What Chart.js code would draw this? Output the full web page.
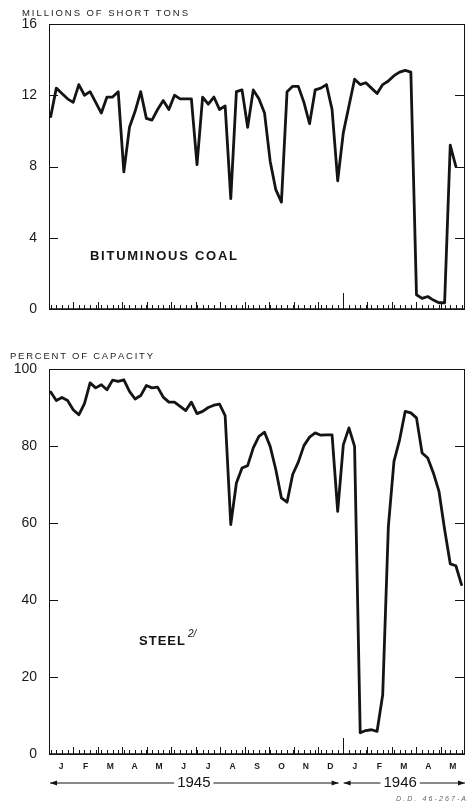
<!DOCTYPE html>
<html>
<head>
<meta charset="utf-8">
<script src="https://cdn.jsdelivr.net/npm/chart.js@4.4.1/dist/chart.umd.min.js"></script>
<style>
  html, body { margin: 0; padding: 0; background: #fff; }
  #wrap { position: relative; width: 468px; height: 803px; overflow: hidden; }
  canvas { position: absolute; left: 0; }
  #coalChart { top: 0; }
  #steelChart { top: 340px; }
</style>
</head>
<body>
<div id="wrap">
  <canvas id="coalChart" width="468" height="340"></canvas>
  <canvas id="steelChart" width="468" height="463"></canvas>
</div>
<script>
// Weekly data, Jan 1945 - May 1946
const coalWeekly = [10.8, 12.4, 12.1, 11.8, 11.6, 12.6, 12.0, 12.2, 11.6, 11.0,
    11.9, 11.9, 12.2, 7.7, 10.2, 11.1, 12.2, 10.7, 10.6, 11.2,
    11.7, 11.2, 12.0, 11.8, 11.8, 11.8, 8.1, 11.9, 11.5, 11.9,
    11.2, 11.4, 6.2, 12.2, 12.3, 10.2, 12.3, 11.8, 11.0, 8.3,
    6.7, 6.0, 12.2, 12.5, 12.5, 11.6, 10.4, 12.3, 12.4, 12.6,
    11.2, 7.2, 9.9, 11.4, 12.9, 12.6, 12.7, 12.4, 12.1, 12.6,
    12.8, 13.1, 13.3, 13.4, 13.3, 0.8, 0.6, 0.7, 0.5, 0.35,
    0.35, 9.2, 8.0];

const steelWeekly = [94.0, 91.8, 92.6, 91.8, 89.4, 88.1, 91.0, 96.4, 95.1, 95.9,
    94.6, 97.1, 96.8, 97.2, 94.2, 92.2, 93.1, 95.7, 95.1, 95.3,
    92.7, 91.4, 91.4, 90.3, 89.2, 91.4, 88.4, 89.0, 90.0, 90.6,
    90.9, 87.9, 59.6, 70.4, 74.3, 74.9, 79.5, 82.5, 83.6, 79.9,
    73.9, 66.5, 65.4, 72.6, 75.8, 80.1, 82.3, 83.4, 82.8, 82.9,
    82.9, 63.0, 80.3, 84.7, 79.9, 5.5, 6.1, 6.3, 5.9, 15.4,
    59.0, 76.0, 81.6, 89.0, 88.6, 87.3, 78.2, 76.9, 73.0, 68.2,
    58.3, 49.4, 48.9, 44.0];

const monthLabels = ['J', 'F', 'M', 'A', 'M', 'J', 'J', 'A', 'S', 'O', 'N', 'D', 'J', 'F', 'M', 'A', 'M'];
const coalTicks = [0, 4, 8, 12, 16];
const steelTicks = [0, 20, 40, 60, 80, 100];
const years = ['1945', '1946'];

// x axis is in weeks; month m starts at monthToX(m)
const WEEKS_PER_MONTH = 52.18 / 12;
const X_OFFSET = 0.3;
const monthToX = m => m * WEEKS_PER_MONTH - X_OFFSET;
const X_MIN = monthToX(0);
const X_MAX = monthToX(monthLabels.length);

const INK = '#141414';
const FONT = "'Liberation Sans', Arial, sans-serif";

// draw text spread out to a given width (old drafting lettering)
function spacedText(ctx, text, x, y, width) {
    const chars = text.split('');
    const natural = chars.reduce((s, c) => s + ctx.measureText(c).width, 0);
    const gap = chars.length > 1 ? (width - natural) / (chars.length - 1) : 0;
    let cx = x;
    chars.forEach(c => {
        ctx.fillText(c, cx, y);
        cx += ctx.measureText(c).width + gap;
    });
}

function line(ctx, x1, y1, x2, y2) {
    ctx.beginPath();
    ctx.moveTo(x1, y1);
    ctx.lineTo(x2, y2);
    ctx.stroke();
}

function arrowHead(ctx, x, y, dir) {
    ctx.beginPath();
    ctx.moveTo(x, y);
    ctx.lineTo(x - dir * 7, y - 2.5);
    ctx.lineTo(x - dir * 7, y + 2.5);
    ctx.closePath();
    ctx.fill();
}

// frame, inward tick marks and lettering
const decorPlugin = {
    id: 'decor',
    afterDraw(chart, args, opts) {
        const { ctx, chartArea: a, scales: { x, y } } = chart;
        ctx.save();
        ctx.strokeStyle = INK;
        ctx.fillStyle = INK;

        // frame
        ctx.lineWidth = 1;
        ctx.strokeRect(a.left + 0.5, a.top + 0.5, a.right - a.left - 1, a.bottom - a.top);
        ctx.lineWidth = 1.6;
        line(ctx, a.left, a.bottom, a.right, a.bottom);

        // weekly ticks along the bottom
        ctx.lineWidth = 1;
        const weeks = Math.floor(X_MAX);
        for (let w = 0; w <= weeks; w++) {
            const px = Math.round(x.getPixelForValue(w)) + 0.5;
            line(ctx, px, a.bottom, px, a.bottom - 4);
        }
        // month ticks
        for (let m = 1; m < monthLabels.length; m++) {
            const px = Math.round(x.getPixelForValue(monthToX(m))) + 0.5;
            const h = m === 12 ? 16 : 7;
            line(ctx, px, a.bottom, px, a.bottom - h);
        }

        // inward ticks on both sides at the major values
        opts.yTicks.slice(1, -1).forEach(v => {
            const py = Math.round(y.getPixelForValue(v)) + 0.5;
            line(ctx, a.left, py, a.left + 9, py);
            line(ctx, a.right - 10, py, a.right, py);
        });

        // lettering
        ctx.textBaseline = 'middle';
        ctx.textAlign = 'left';
        opts.texts.forEach(t => {
            ctx.font = t.font;
            ctx.fillStyle = t.color || INK;
            if (t.width) {
                spacedText(ctx, t.text, t.x, t.y, t.width);
            } else {
                ctx.fillText(t.text, t.x, t.y);
            }
        });

        // year spans with arrows
        if (opts.years) {
            const yy = a.bottom + 29;
            const start = x.getPixelForValue(monthToX(0));
            const split = x.getPixelForValue(monthToX(12));
            const end = a.right;
            ctx.font = '15px ' + FONT;
            ctx.textAlign = 'center';
            ctx.fillStyle = INK;
            ctx.lineWidth = 1;
            const spans = [
                { label: years[0], from: start + 1, to: split - 4, cx: x.getPixelForValue(monthToX(6)) - 2 },
                { label: years[1], from: split + 1, to: end, cx: x.getPixelForValue(monthToX(14.35)) }
            ];
            spans.forEach(s => {
                const half = ctx.measureText(s.label).width / 2;
                ctx.fillText(s.label, s.cx, yy);
                line(ctx, s.from, yy, s.cx - half - 3, yy);
                line(ctx, s.cx + half + 3, yy, s.to, yy);
                arrowHead(ctx, s.from, yy, -1);
                arrowHead(ctx, s.to, yy, 1);
            });
        }
        ctx.restore();
    }
};

function weeklyPoints(values) {
    return values.map((v, i) => ({ x: i, y: v }));
}

function makeChart(canvasId, values, yTicks, cfg) {
    return new Chart(document.getElementById(canvasId), {
        type: 'line',
        data: {
            datasets: [{
                data: weeklyPoints(values),
                borderColor: INK,
                borderWidth: 2.8,
                borderJoinStyle: 'round',
                borderCapStyle: 'round',
                pointRadius: 0,
                tension: 0,
                fill: false
            }]
        },
        options: {
            responsive: false,
            animation: false,
            devicePixelRatio: 1,
            layout: { padding: cfg.padding },
            plugins: {
                legend: { display: false },
                tooltip: { enabled: false },
                decor: { yTicks: yTicks, texts: cfg.texts, years: cfg.years }
            },
            scales: {
                x: {
                    type: 'linear',
                    min: X_MIN,
                    max: X_MAX,
                    display: cfg.showMonths,
                    grid: { display: false, drawTicks: false },
                    border: { display: false },
                    afterBuildTicks: scale => {
                        scale.ticks = monthLabels.map((_, m) => ({ value: monthToX(m + 0.5) }));
                    },
                    afterFit: scale => { scale.height = 20; },
                    ticks: {
                        autoSkip: false,
                        maxRotation: 0,
                        padding: 8,
                        color: '#1a1a1a',
                        font: { family: FONT, size: 8.5, weight: 'bold' },
                        callback: (value, index) => monthLabels[index]
                    }
                },
                y: {
                    min: yTicks[0],
                    max: yTicks[yTicks.length - 1],
                    grid: { display: false, drawTicks: false },
                    border: { display: false },
                    afterBuildTicks: scale => {
                        scale.ticks = yTicks.map(v => ({ value: v }));
                    },
                    afterFit: scale => { scale.width = 49; },
                    ticks: {
                        padding: 12,
                        color: '#1a1a1a',
                        font: { family: FONT, size: 14 }
                    }
                }
            }
        },
        plugins: [decorPlugin]
    });
}

// Bituminous coal, millions of short tons per week
makeChart('coalChart', coalWeekly, coalTicks, {
    padding: { left: 0, right: 3, top: 24, bottom: 11 },
    showMonths: false,
    texts: [
        { text: 'MILLIONS OF SHORT TONS', x: 22, y: 13, width: 166, font: '9.5px ' + FONT, color: '#222' },
        { text: 'BITUMINOUS COAL', x: 90, y: 256, width: 147, font: 'bold 13px ' + FONT }
    ]
});

// Steel, percent of capacity
makeChart('steelChart', steelWeekly, steelTicks, {
    padding: { left: 0, right: 3, top: 29, bottom: 29 },
    showMonths: true,
    years: true,
    texts: [
        { text: 'PERCENT OF CAPACITY', x: 10, y: 16, width: 143, font: '9.5px ' + FONT, color: '#222' },
        { text: 'STEEL', x: 139, y: 301, width: 46, font: 'bold 13px ' + FONT },
        { text: '2/', x: 188, y: 294, font: 'italic 10px ' + FONT },
        { text: 'D.D. 46-267-A', x: 396, y: 459, width: 70, font: 'italic 7px ' + FONT, color: '#666' }
    ]
});
</script>
</body>
</html>
